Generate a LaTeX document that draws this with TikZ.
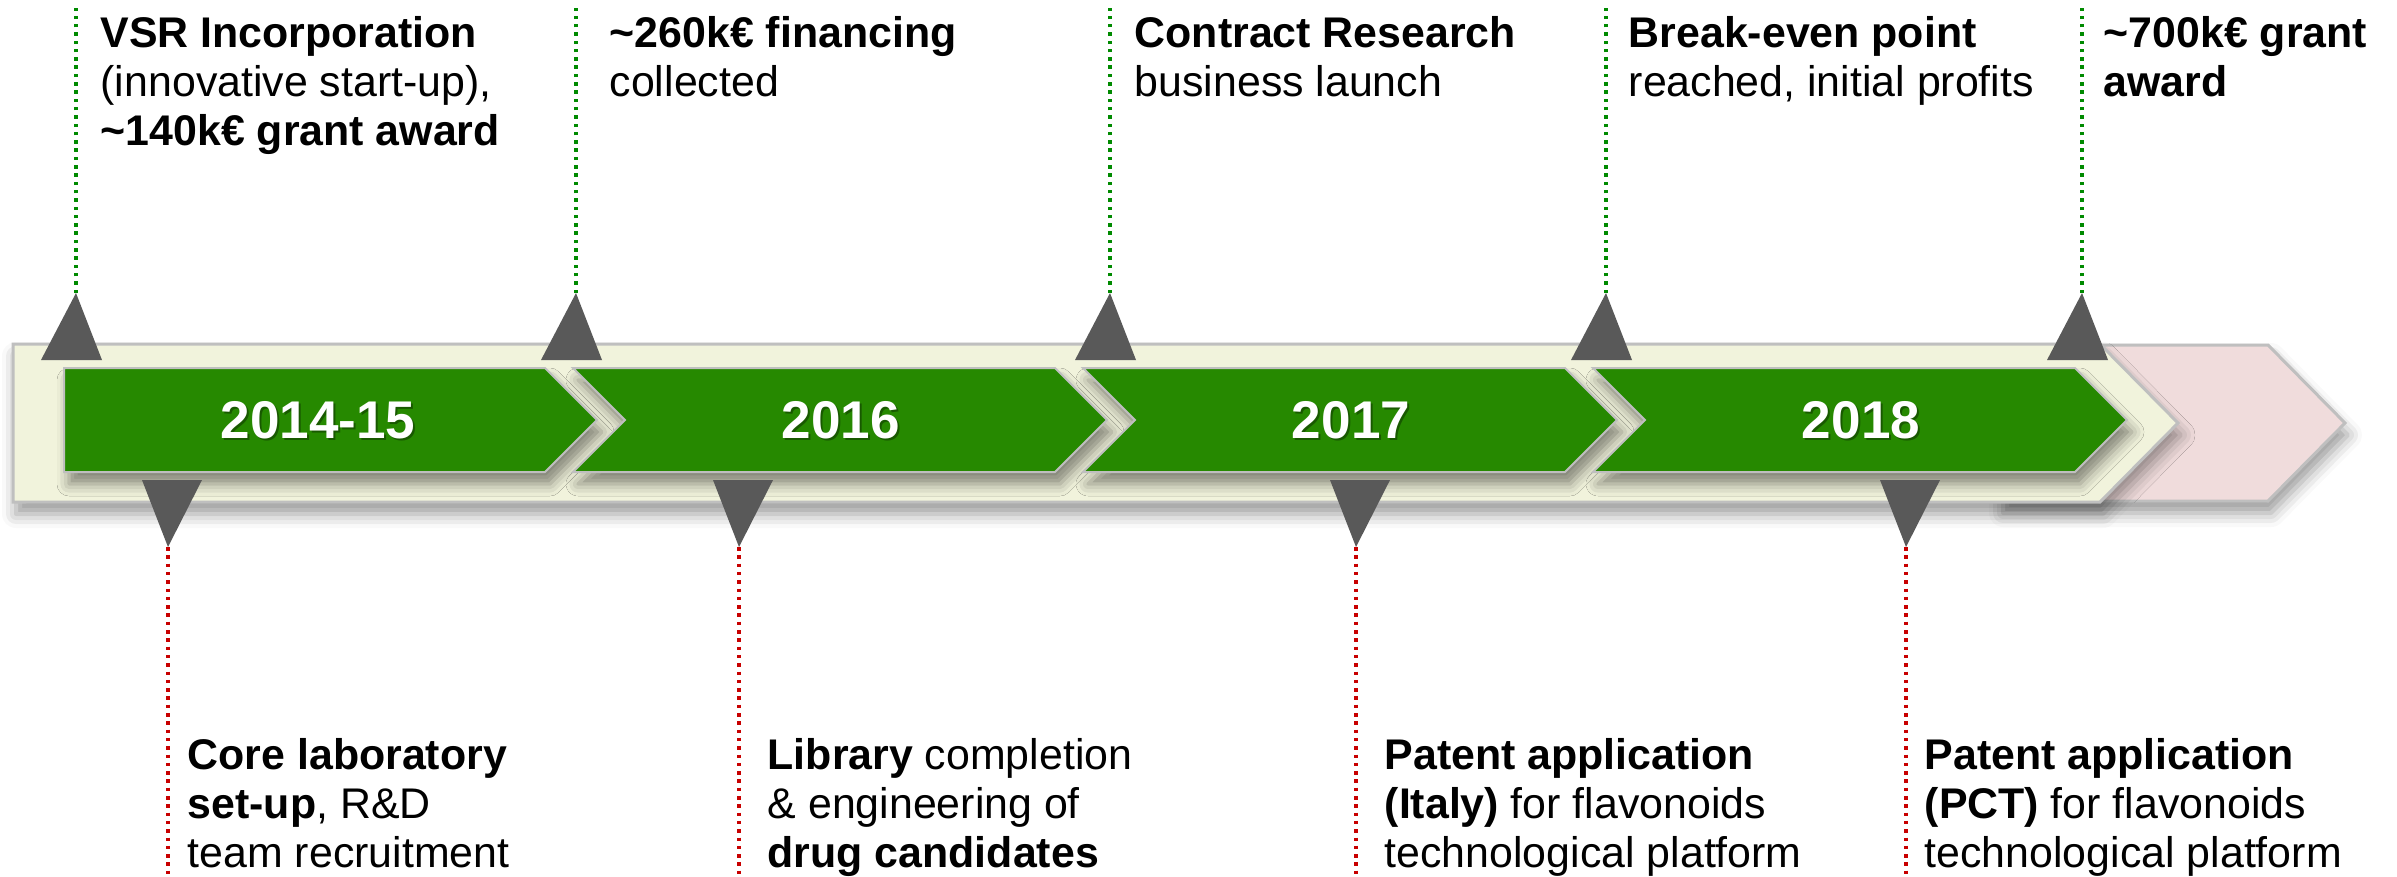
\documentclass[tikz,border=0pt]{standalone}
\usepackage{fontspec}
\setmainfont{Liberation Sans}
\usetikzlibrary{shadows.blur}
\definecolor{grn}{HTML}{268900}
\definecolor{cream}{HTML}{F1F3DC}
\definecolor{pinkbg}{HTML}{F0DCDC}
\definecolor{edgegray}{HTML}{BFBFBF}
\definecolor{trigray}{HTML}{595959}
\definecolor{dotgreen}{HTML}{008A00}
\definecolor{dotred}{HTML}{C80000}
\definecolor{yearshadow}{HTML}{0E3300}
\tikzset{
  greenarrow/.style={fill=grn, draw=edgegray, line width=0.2mm,
    blur shadow={shadow xshift=0.5mm, shadow yshift=-1.2mm, shadow blur radius=1.2mm, shadow opacity=45}},
  bandshape/.style={draw=edgegray, line width=0.3mm,
    blur shadow={shadow xshift=0.3mm, shadow yshift=-1.2mm, shadow blur radius=1.4mm, shadow opacity=40}},
  marker/.style={fill=trigray},
  uprule/.style={draw=dotgreen, line width=0.35mm, dash pattern=on 0.35mm off 0.48mm},
  downrule/.style={draw=dotred, line width=0.35mm, dash pattern=on 0.35mm off 0.48mm},
  evtext/.style={anchor=base west, align=left, inner sep=0pt, text=black,
    font=\fontsize{12.2}{13.9}\selectfont},
  yeartext/.style={text=white, inner sep=0pt, font=\fontsize{15.1}{16}\selectfont\bfseries},
  yearshade/.style={text=yearshadow, text opacity=0.55, inner sep=0pt, font=\fontsize{15.1}{16}\selectfont\bfseries}
}
\begin{document}
\begin{tikzpicture}[x=0.1mm,y=-0.1mm]
\useasboundingbox (0,0) rectangle (2397,876);

% background band and future chevron
\path[bandshape, fill=pinkbg] (2000,345) -- (2268,345) -- (2345,423) -- (2268,501) -- (2000,501) -- cycle;
\path[bandshape, fill=cream] (13,344) -- (2100,344) -- (2178,423) -- (2100,502) -- (13,502) -- cycle;

% green year arrows
\path[greenarrow] (64,368) -- (545,368) -- (597,420) -- (545,472) -- (64,472) -- cycle;
\path[greenarrow] (573,368) -- (1055,368) -- (1107,420) -- (1055,472) -- (573,472) -- (625,420) -- cycle;
\path[greenarrow] (1083,368) -- (1565,368) -- (1617,420) -- (1565,472) -- (1083,472) -- (1135,420) -- cycle;
\path[greenarrow] (1593,368) -- (2075,368) -- (2127,420) -- (2075,472) -- (1593,472) -- (1645,420) -- cycle;

% year labels
\node[yearshade] (y1s) at (320,422) {2014-15};
\node[yeartext] (y1) at (318,420) {2014-15};
\node[yearshade] (y2s) at (843,422) {2016};
\node[yeartext] (y2) at (841,420) {2016};
\node[yearshade] (y3s) at (1353,422) {2017};
\node[yeartext] (y3) at (1351,420) {2017};
\node[yearshade] (y4s) at (1863,422) {2018};
\node[yeartext] (y4) at (1861,420) {2018};

% upper markers
\foreach \n/\x in {1/76,2/576,3/1110,4/1606,5/2082}{
  \coordinate (ua\n) at (\x,293);
  \coordinate (ut\n) at (\x,8);
  \path[marker] (ua\n) -- ++(26,67) -- ++(-61,0) -- cycle;
  \draw[uprule] (ua\n) -- (ut\n);
}
% lower markers
\foreach \n/\x in {1/168,2/739,3/1356,4/1906}{
  \coordinate (da\n) at (\x,547);
  \coordinate (db\n) at (\x,876);
  \path[marker] (da\n) -- ++(34,-67) -- ++(-60,0) -- cycle;
  \draw[downrule] (da\n) -- (db\n);
}

% upper texts (anchored at the baseline of their last line)
\node[evtext] (t1) at (100,145) {\textbf{VSR Incorporation}\\(innovative start-up),\\\textbf{\textasciitilde140k€ grant award}};
\node[evtext] (t2) at (609,96) {\textbf{\textasciitilde260k€ financing}\\collected};
\node[evtext] (t3) at (1134,96) {\textbf{Contract Research}\\business launch};
\node[evtext] (t4) at (1628,96) {\textbf{Break-even point}\\reached, initial profits};
\node[evtext] (t5) at (2103,96) {\textbf{\textasciitilde700k€ grant}\\\textbf{award}};

% lower texts
\node[evtext] (b1) at (187,867) {\textbf{Core laboratory}\\\textbf{set-up}, R\&D\\team recruitment};
\node[evtext] (b2) at (767,867) {\textbf{Library} completion\\\& engineering of\\\textbf{drug candidates}};
\node[evtext] (b3) at (1384,867) {\textbf{Patent application}\\\textbf{(Italy)} for flavonoids\\technological platform};
\node[evtext] (b4) at (1924,867) {\textbf{Patent application}\\\textbf{(PCT)} for flavonoids\\technological platform};
\end{tikzpicture}
\end{document}
